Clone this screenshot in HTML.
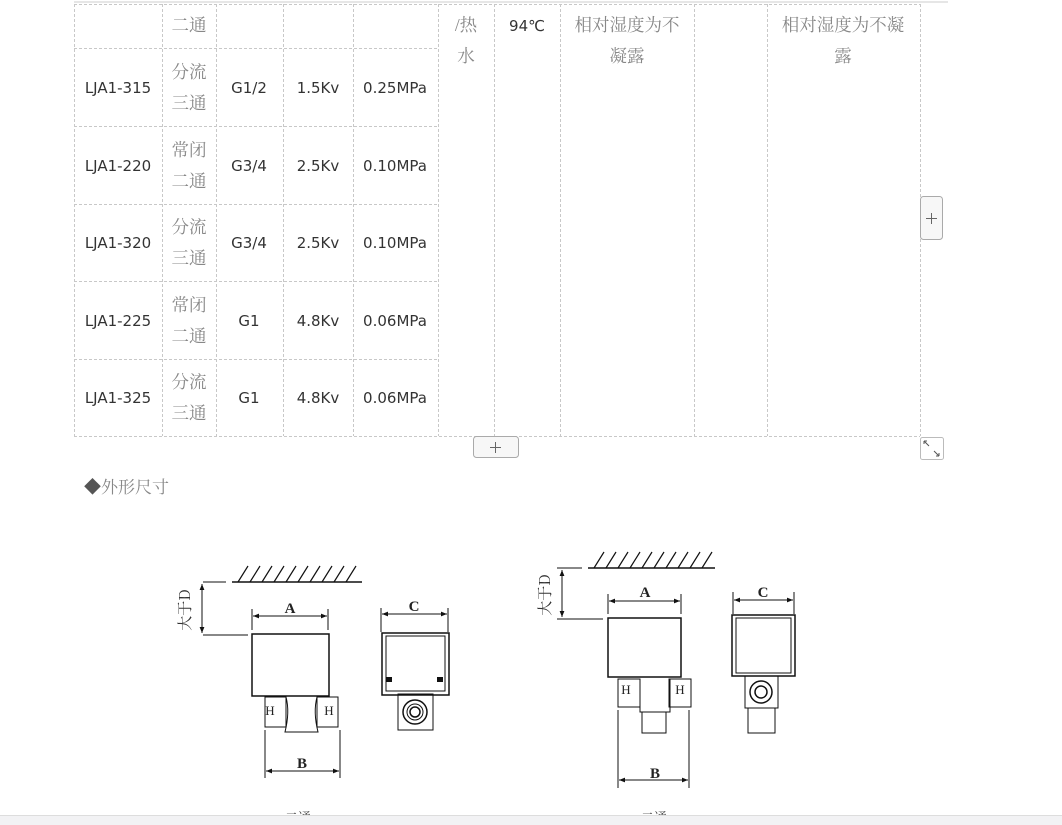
<!DOCTYPE html>
<html><head><meta charset="utf-8"><style>
html,body{margin:0;padding:0;background:#fff;width:1062px;height:825px;overflow:hidden}
svg{display:block}
.m{font-family:"DejaVu Sans","Liberation Sans",sans-serif;font-size:15px;fill:#333;text-anchor:middle}
.c{font-family:"Liberation Serif","Noto Serif CJK SC",serif;font-size:17.5px;fill:#888;text-anchor:middle}
.d{font-family:"Liberation Serif","Noto Serif CJK SC",serif;font-size:15px;fill:#222;font-weight:bold;text-anchor:middle}
</style></head><body>
<svg width="1062" height="825" viewBox="0 0 1062 825" xmlns="http://www.w3.org/2000/svg">
<defs>
<marker id="ar" viewBox="0 0 10 10" refX="10" refY="5" markerWidth="8" markerHeight="6" orient="auto-start-reverse"><path d="M0,1 L10,5 L0,9 z" fill="#111"/></marker>
</defs>
<line x1="74" y1="2" x2="948" y2="2" stroke="#ccc"/>
<g stroke="#c8c8c8" stroke-dasharray="3 2" fill="none">
<line x1="74" y1="4.5" x2="920" y2="4.5"/>
<line x1="74" y1="436.5" x2="920" y2="436.5"/>
<line x1="74" y1="48.5" x2="438" y2="48.5"/>
<line x1="74" y1="126.5" x2="438" y2="126.5"/>
<line x1="74" y1="204.5" x2="438" y2="204.5"/>
<line x1="74" y1="281.5" x2="438" y2="281.5"/>
<line x1="74" y1="359.5" x2="438" y2="359.5"/>
<line x1="74.5" y1="4" x2="74.5" y2="436"/>
<line x1="162.5" y1="4" x2="162.5" y2="436"/>
<line x1="216.5" y1="4" x2="216.5" y2="436"/>
<line x1="283.5" y1="4" x2="283.5" y2="436"/>
<line x1="353.5" y1="4" x2="353.5" y2="436"/>
<line x1="438.5" y1="4" x2="438.5" y2="436"/>
<line x1="494.5" y1="4" x2="494.5" y2="436"/>
<line x1="560.5" y1="4" x2="560.5" y2="436"/>
<line x1="694.5" y1="4" x2="694.5" y2="436"/>
<line x1="767.5" y1="4" x2="767.5" y2="436"/>
<line x1="920.5" y1="4" x2="920.5" y2="436"/>
</g>
<text class="c" x="189" y="31">二通</text>
<text class="c" x="466" y="31">/热</text><text class="c" x="466" y="62">水</text>
<text class="m" x="527" y="31">94℃</text>
<text class="c" x="627" y="31">相对湿度为不</text><text class="c" x="627" y="62">凝露</text>
<text class="c" x="843" y="31">相对湿度为不凝</text><text class="c" x="843" y="62">露</text>

<g>
<text class="m" x="118" y="93">LJA1-315</text><text class="c" x="189" y="78">分流</text><text class="c" x="189" y="109">三通</text>
<text class="m" x="249" y="93">G1/2</text><text class="m" x="318" y="93">1.5Kv</text><text class="m" x="395" y="93">0.25MPa</text>
<text class="m" x="118" y="171">LJA1-220</text><text class="c" x="189" y="156">常闭</text><text class="c" x="189" y="187">二通</text>
<text class="m" x="249" y="171">G3/4</text><text class="m" x="318" y="171">2.5Kv</text><text class="m" x="395" y="171">0.10MPa</text>
<text class="m" x="118" y="248">LJA1-320</text><text class="c" x="189" y="233">分流</text><text class="c" x="189" y="264">三通</text>
<text class="m" x="249" y="248">G3/4</text><text class="m" x="318" y="248">2.5Kv</text><text class="m" x="395" y="248">0.10MPa</text>
<text class="m" x="118" y="326">LJA1-225</text><text class="c" x="189" y="311">常闭</text><text class="c" x="189" y="342">二通</text>
<text class="m" x="249" y="326">G1</text><text class="m" x="318" y="326">4.8Kv</text><text class="m" x="395" y="326">0.06MPa</text>
<text class="m" x="118" y="403">LJA1-325</text><text class="c" x="189" y="388">分流</text><text class="c" x="189" y="419">三通</text>
<text class="m" x="249" y="403">G1</text><text class="m" x="318" y="403">4.8Kv</text><text class="m" x="395" y="403">0.06MPa</text>
</g>

<rect x="920.5" y="196.5" width="22" height="43" rx="3" fill="#f7f7f7" stroke="#aaa"/>
<path d="M926 218.5h11M931.5 213v11" stroke="#666"/>
<rect x="473.5" y="436.5" width="45" height="21" rx="3" fill="#f7f7f7" stroke="#aaa"/>
<path d="M490 447.5h11M495.5 442v11" stroke="#666"/>
<rect x="920.5" y="437.5" width="23" height="22" rx="2" fill="#fff" stroke="#bbb"/>
<path d="M924 441l5 5M924 441v3M924 441h3M939 456l-5-5M939 456v-3M939 456h-3" stroke="#555" fill="none"/>

<text x="84" y="493" style="font-family:'Liberation Serif','Noto Serif CJK SC',serif;font-size:17px;fill:#888"><tspan fill="#555">◆</tspan>外形尺寸</text>

<g stroke="#111" stroke-width="1.5" fill="none">
<line x1="232" y1="582" x2="362" y2="582"/>
<path d="M238 582l10-16M250 582l10-16M262 582l10-16M274 582l10-16M286 582l10-16M298 582l10-16M310 582l10-16M322 582l10-16M334 582l10-16M346 582l10-16" stroke-width="1.2"/>
<line x1="203" y1="582" x2="226" y2="582" stroke-width="1"/>
<line x1="203" y1="635" x2="248" y2="635" stroke-width="1"/>
<line x1="202" y1="584" x2="202" y2="633" stroke-width="1" marker-start="url(#ar)" marker-end="url(#ar)"/>
<line x1="252" y1="609" x2="252" y2="630" stroke-width="1"/><line x1="328" y1="609" x2="328" y2="630" stroke-width="1"/>
<line x1="253" y1="616" x2="327" y2="616" stroke-width="1" marker-start="url(#ar)" marker-end="url(#ar)"/>
<rect x="252" y="634" width="77" height="62"/>
<rect x="265" y="697" width="21" height="30" stroke-width="1"/>
<rect x="317" y="697" width="21" height="30" stroke-width="1"/>
<path d="M286 697 Q290 712 285 732 H318 Q313 712 317 697" stroke-width="1"/>
<line x1="265" y1="730" x2="265" y2="778" stroke-width="1"/><line x1="340" y1="730" x2="340" y2="778" stroke-width="1"/>
<line x1="266" y1="771" x2="339" y2="771" stroke-width="1" marker-start="url(#ar)" marker-end="url(#ar)"/>
<line x1="381" y1="608" x2="381" y2="632" stroke-width="1"/><line x1="448" y1="608" x2="448" y2="632" stroke-width="1"/>
<line x1="382" y1="614" x2="447" y2="614" stroke-width="1" marker-start="url(#ar)" marker-end="url(#ar)"/>
<rect x="382" y="633" width="67" height="62"/>
<rect x="386" y="636" width="59" height="55" stroke-width="1"/>
<rect x="398" y="694" width="35" height="36" stroke-width="1"/>
<circle cx="415" cy="712" r="12"/><circle cx="415" cy="712" r="8" stroke-width="1"/><circle cx="415" cy="712" r="5"/>
</g>
<rect x="386" y="677" width="6" height="5" fill="#111"/><rect x="437" y="677" width="6" height="5" fill="#111"/>
<text class="d" x="290" y="613">A</text><text class="d" x="302" y="768">B</text><text class="d" x="414" y="611">C</text>
<text class="d" x="270" y="715" style="font-size:13px;font-weight:normal">H</text><text class="d" x="329" y="715" style="font-size:13px;font-weight:normal">H</text>
<text x="0" y="0" transform="translate(190 610) rotate(-90)" style="font-family:'Noto Serif CJK SC',serif;font-size:15px;fill:#333;text-anchor:middle">大于D</text>
<text class="c" x="298" y="822" style="fill:#444;font-size:13px">二通</text>

<g stroke="#111" stroke-width="1.5" fill="none">
<line x1="588" y1="568" x2="715" y2="568"/>
<path d="M594 568l10-16M606 568l10-16M618 568l10-16M630 568l10-16M642 568l10-16M654 568l10-16M666 568l10-16M678 568l10-16M690 568l10-16M702 568l10-16" stroke-width="1.2"/>
<line x1="557" y1="568" x2="582" y2="568" stroke-width="1"/>
<line x1="557" y1="619" x2="603" y2="619" stroke-width="1"/>
<line x1="562" y1="570" x2="562" y2="617" stroke-width="1" marker-start="url(#ar)" marker-end="url(#ar)"/>
<line x1="608" y1="594" x2="608" y2="614" stroke-width="1"/><line x1="681" y1="594" x2="681" y2="614" stroke-width="1"/>
<line x1="609" y1="601" x2="680" y2="601" stroke-width="1" marker-start="url(#ar)" marker-end="url(#ar)"/>
<rect x="608" y="618" width="73" height="59"/>
<rect x="618" y="679" width="22" height="28" stroke-width="1"/>
<rect x="669" y="679" width="22" height="28" stroke-width="1"/>
<path d="M640 679 V712 H670 V679" stroke-width="1"/>
<rect x="642" y="712" width="24" height="21" stroke-width="1"/>
<line x1="618" y1="710" x2="618" y2="788" stroke-width="1"/><line x1="689" y1="710" x2="689" y2="788" stroke-width="1"/>
<line x1="619" y1="780" x2="688" y2="780" stroke-width="1" marker-start="url(#ar)" marker-end="url(#ar)"/>
<line x1="733" y1="592" x2="733" y2="614" stroke-width="1"/><line x1="794" y1="592" x2="794" y2="614" stroke-width="1"/>
<line x1="734" y1="600" x2="793" y2="600" stroke-width="1" marker-start="url(#ar)" marker-end="url(#ar)"/>
<rect x="732" y="615" width="63" height="61"/>
<rect x="736" y="618" width="55" height="55" stroke-width="1"/>
<rect x="745" y="676" width="33" height="32" stroke-width="1"/>
<circle cx="761" cy="692" r="11"/><circle cx="761" cy="692" r="6"/>
<rect x="748" y="708" width="27" height="25" stroke-width="1"/>
</g>
<text class="d" x="645" y="597">A</text><text class="d" x="655" y="778">B</text><text class="d" x="763" y="597">C</text>
<text class="d" x="626" y="694" style="font-size:13px;font-weight:normal">H</text><text class="d" x="680" y="694" style="font-size:13px;font-weight:normal">H</text>
<text x="0" y="0" transform="translate(550 595) rotate(-90)" style="font-family:'Noto Serif CJK SC',serif;font-size:15px;fill:#333;text-anchor:middle">大于D</text>
<text class="c" x="654" y="822" style="fill:#444;font-size:13px">二通</text>

<rect x="0" y="815" width="1062" height="10" fill="#f2f2f4"/>
<line x1="0" y1="815.5" x2="1062" y2="815.5" stroke="#ddd"/>
</svg>
</body></html>
